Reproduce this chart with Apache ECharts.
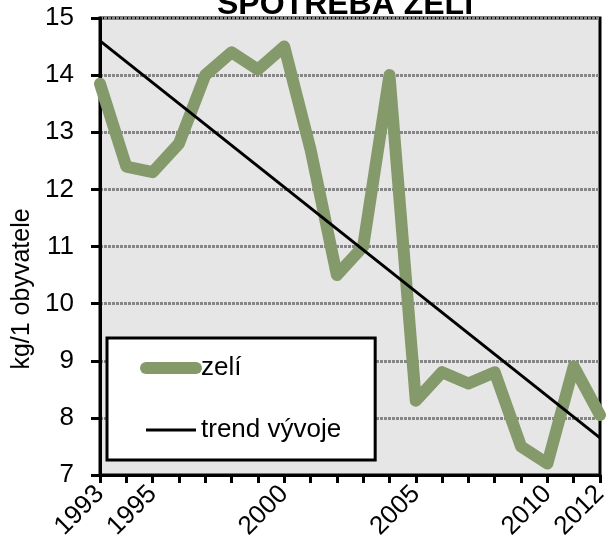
<!DOCTYPE html>
<html>
<head>
<meta charset="utf-8">
<script src="https://cdn.jsdelivr.net/npm/echarts@6/dist/echarts.min.js"></script>
<style>
  html, body { margin: 0; padding: 0; background: #fff; }
  #graph { width: 606px; height: 543px; }
</style>
</head>
<body>
<div id="graph"></div>
<script>
const chartDom = document.getElementById('graph')
const myChart = echarts.init(chartDom)

// data
const years = ['1993', '1994', '1995', '1996', '1997', '1998', '1999', '2000', '2001', '2002',
    '2003', '2004', '2005', '2006', '2007', '2008', '2009', '2010', '2011', '2012'];
const zeli = [13.85, 12.4, 12.3, 12.8, 14.0, 14.4, 14.1, 14.5, 12.7, 10.5,
    11.0, 14.0, 8.3, 8.8, 8.6, 8.8, 7.5, 7.2, 8.9, 8.05];
// trend line: only its two ends are read, the rest is left empty
const trend = [14.6, null, null, null, null, null, null, null, null, null,
    null, null, null, null, null, null, null, null, null, 7.65];
const labelYears = ['1993', '1995', '2000', '2005', '2010', '2012'];

const font = 'Arial, "Liberation Sans", sans-serif';

const option = {
    animation: false,
    title: {
        text: 'SPOTŘEBA ZELÍ',
        left: 217,
        top: -11,
        padding: 0,
        textStyle: {
            fontFamily: font,
            fontSize: 32,
            fontWeight: 'bold',
            color: '#000'
        }
    },
    grid: {
        left: 100,
        right: 6,
        top: 18,
        bottom: 68,
        outerBoundsMode: 'none',
        containLabel: false,
        show: true,
        backgroundColor: '#e6e6e6',
        borderColor: '#000',
        borderWidth: 3
    },
    legend: {
        orient: 'vertical',
        left: 107,
        top: 338,
        backgroundColor: '#fff',
        borderColor: '#000',
        borderWidth: 3,
        padding: [17, 34, 17, 33],
        itemGap: 36,
        itemWidth: 50,
        itemHeight: 14,
        itemStyle: { color: 'rgba(0,0,0,0)', borderWidth: 0, opacity: 0 },
        textStyle: {
            fontFamily: font,
            fontSize: 26,
            color: '#000'
        },
        data: [
            { name: 'zelí', lineStyle: { width: 12, cap: 'round' } },
            { name: 'trend vývoje', lineStyle: { width: 3 } }
        ]
    },
    graphic: [
        {
            type: 'text',
            x: 22,
            y: 289,
            rotation: Math.PI / 2,
            style: {
                text: 'kg/1 obyvatele',
                font: '25px Arial, "Liberation Sans", sans-serif',
                fill: '#000',
                align: 'center',
                verticalAlign: 'middle'
            }
        }
    ],
    xAxis: {
        type: 'category',
        data: years,
        boundaryGap: false,
        axisLine: { lineStyle: { color: '#000', width: 3 } },
        axisTick: { interval: 0, length: 8, lineStyle: { color: '#000', width: 3 } },
        axisLabel: {
            interval: function (index, value) {
                return labelYears.indexOf(value) >= 0;
            },
            rotate: 45,
            margin: 15,
            fontFamily: font,
            fontSize: 26,
            color: '#000'
        },
        splitLine: { show: false }
    },
    yAxis: {
        type: 'value',
        min: 7,
        max: 15,
        interval: 1,
        axisLine: { show: true, lineStyle: { color: '#000', width: 3 } },
        axisTick: { show: true, length: 9, lineStyle: { color: '#000', width: 3 } },
        axisLabel: {
            margin: 26,
            fontFamily: font,
            fontSize: 26,
            color: '#000'
        },
        splitLine: {
            show: true,
            lineStyle: { color: '#878787', width: 3, type: [3, 1] }
        }
    },
    series: [
        {
            name: 'zelí',
            type: 'line',
            data: zeli,
            symbol: 'none',
            lineStyle: { color: '#859a6b', width: 12, cap: 'round', join: 'round' },
            itemStyle: { color: '#859a6b' },
            z: 3
        },
        {
            name: 'trend vývoje',
            type: 'line',
            data: trend,
            connectNulls: true,
            symbol: 'none',
            lineStyle: { color: '#000', width: 3 },
            itemStyle: { color: '#000' },
            z: 4
        }
    ]
};

option && myChart.setOption(option);
</script>
</body>
</html>
